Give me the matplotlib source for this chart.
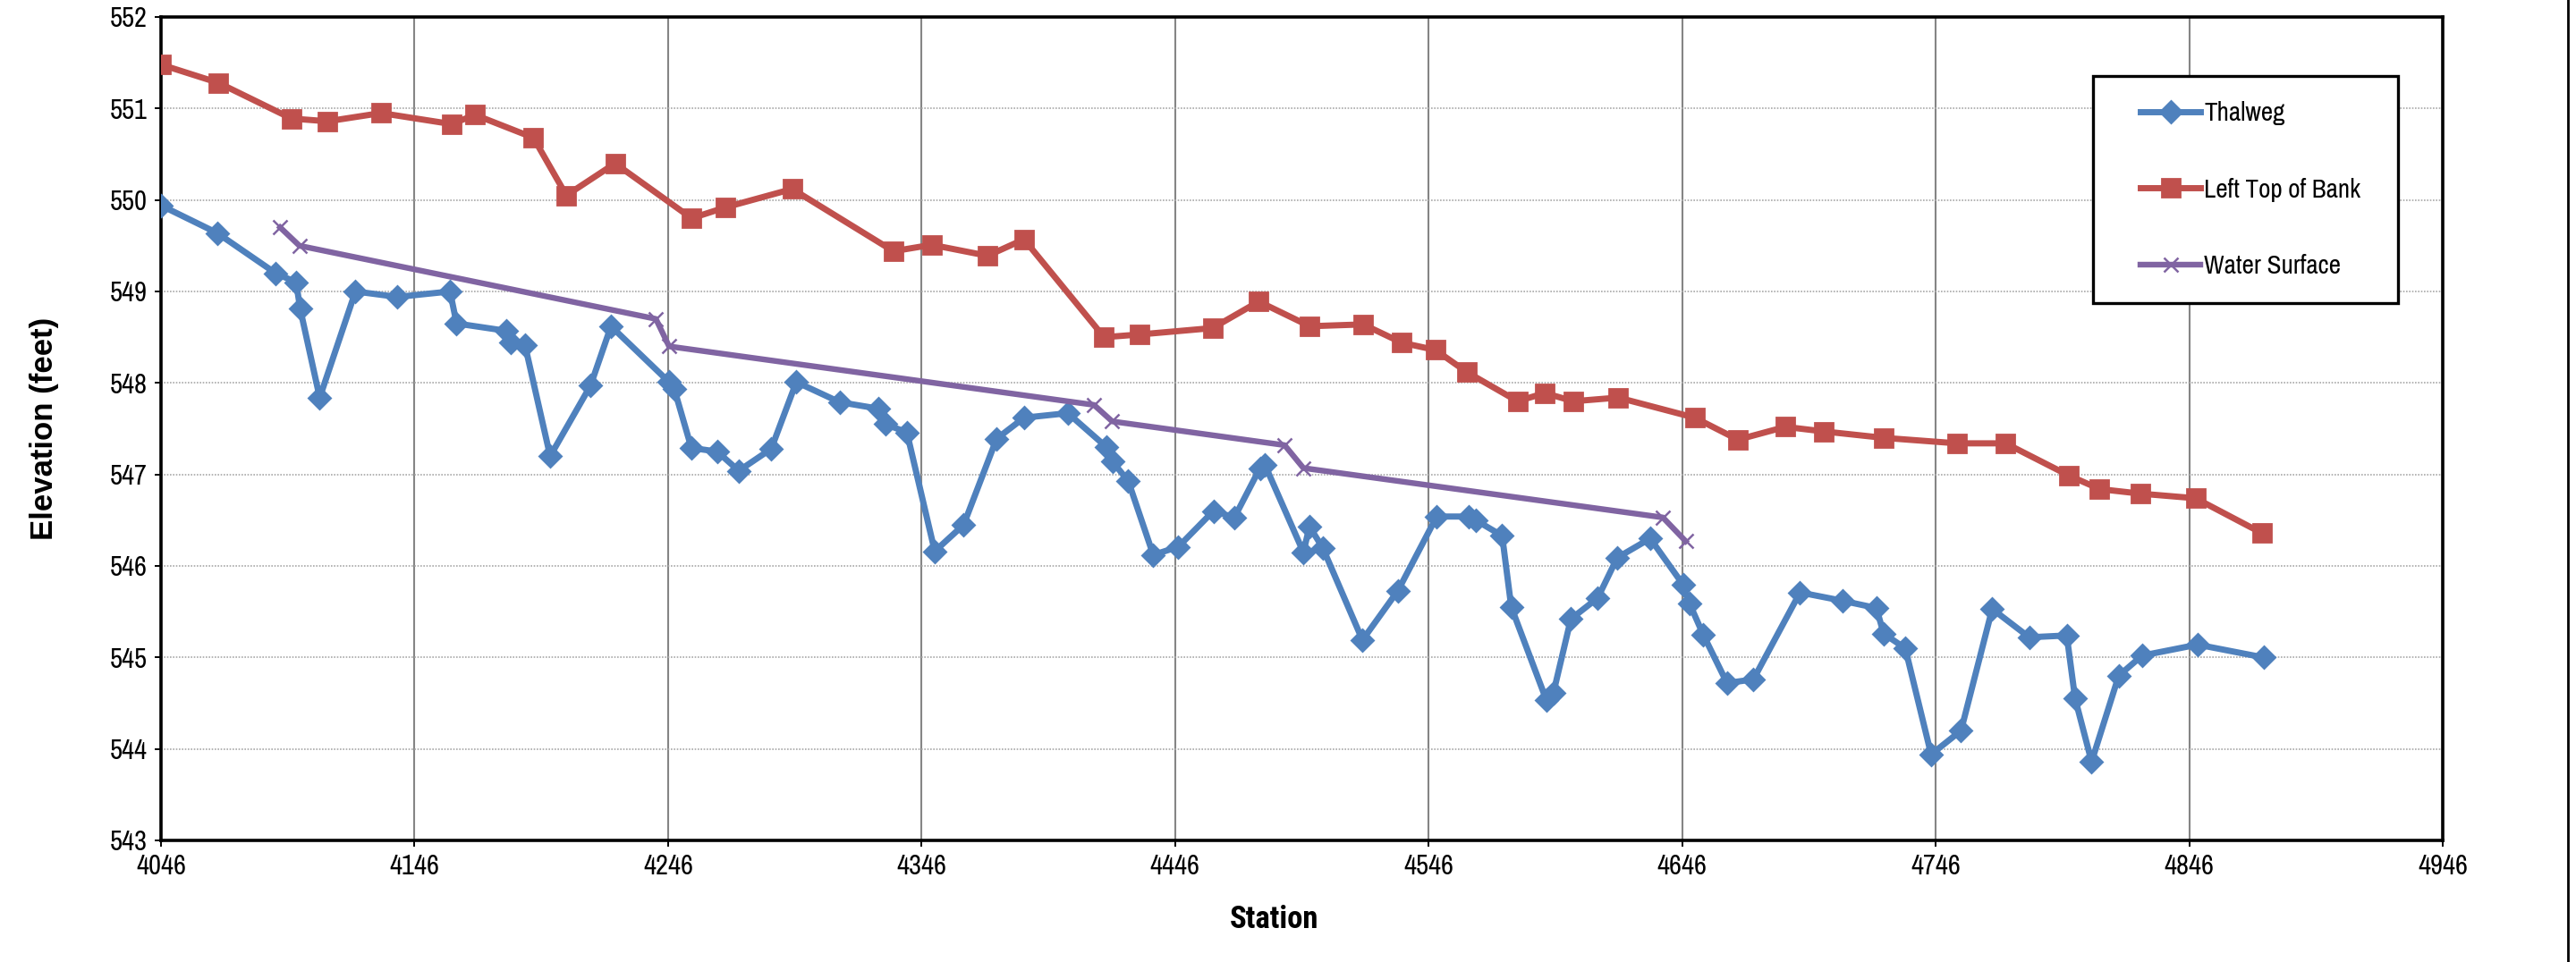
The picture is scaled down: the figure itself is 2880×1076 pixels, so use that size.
import matplotlib
matplotlib.use("Agg")
import matplotlib.pyplot as plt
from matplotlib.patches import Rectangle
from matplotlib.lines import Line2D

# ---- data ----
thalweg_station = [4046, 4068.1, 4091.2, 4099.3, 4100.9, 4108.6, 4122.7, 4139.2, 4160.0, 4162.6,
                   4182.1, 4183.9, 4189.6, 4199.5, 4215.4, 4223.5, 4246.4, 4248.5, 4255.2, 4265.4,
                   4273.9, 4286.7, 4296.6, 4313.7, 4328.8, 4331.7, 4340.2, 4351.2, 4362.6, 4375.6,
                   4386.4, 4403.7, 4418.9, 4421.3, 4427.5, 4437.4, 4447.3, 4461.1, 4469.4, 4479.5,
                   4481.5, 4496.6, 4499.0, 4504.2, 4519.9, 4533.9, 4549.2, 4561.9, 4564.6, 4575.0,
                   4578.6, 4592.5, 4595.2, 4602.1, 4612.7, 4620.4, 4633.4, 4646.5, 4648.9, 4654.3,
                   4663.7, 4674.1, 4692.5, 4709.1, 4722.6, 4725.5, 4734.0, 4744.2, 4756.0, 4768.3,
                   4782.9, 4797.7, 4801.0, 4807.5, 4818.2, 4827.4, 4849.3, 4875.3]
thalweg_elev = [549.94, 549.64, 549.20, 549.10, 548.81, 547.84, 549.00, 548.94, 549.00, 548.65,
                548.57, 548.44, 548.41, 547.20, 547.97, 548.62, 548.01, 547.93, 547.29, 547.25,
                547.04, 547.28, 548.01, 547.79, 547.72, 547.55, 547.46, 546.16, 546.45, 547.39,
                547.62, 547.67, 547.30, 547.14, 546.93, 546.12, 546.21, 546.60, 546.53, 547.07,
                547.10, 546.15, 546.43, 546.20, 545.19, 545.73, 546.54, 546.54, 546.50, 546.33,
                545.55, 544.53, 544.61, 545.42, 545.65, 546.09, 546.30, 545.79, 545.59, 545.25,
                544.72, 544.76, 545.71, 545.62, 545.54, 545.26, 545.10, 543.94, 544.20, 545.53,
                545.22, 545.24, 544.55, 543.86, 544.80, 545.02, 545.14, 545.00]

bank_station = [4046, 4068.7, 4097.5, 4111.7, 4132.8, 4160.5, 4169.9, 4192.9, 4205.9, 4225.1,
                4255.3, 4268.7, 4295.0, 4334.9, 4350.0, 4372.0, 4386.4, 4418.0, 4432.0, 4460.8,
                4479.0, 4499.1, 4520.2, 4535.4, 4548.7, 4561.0, 4581.1, 4591.8, 4603.1, 4620.8,
                4651.0, 4668.0, 4686.7, 4701.9, 4725.5, 4754.5, 4773.6, 4798.4, 4810.7, 4826.8,
                4848.5, 4874.6]
bank_elev = [551.48, 551.28, 550.89, 550.86, 550.95, 550.83, 550.93, 550.68, 550.05, 550.40,
             549.80, 549.92, 550.12, 549.44, 549.51, 549.39, 549.57, 548.50, 548.53, 548.60,
             548.89, 548.62, 548.64, 548.44, 548.36, 548.12, 547.80, 547.89, 547.80, 547.84,
             547.62, 547.38, 547.52, 547.47, 547.40, 547.34, 547.34, 546.99, 546.84, 546.79,
             546.74, 546.36]

ws_station = [4093.0, 4100.6, 4241.2, 4246.4, 4414.0, 4421.2, 4489.2, 4496.6, 4638.4, 4647.4]
ws_elev = [549.70, 549.50, 548.70, 548.40, 547.76, 547.58, 547.32, 547.07, 546.53, 546.27]

x_ticks = [4046, 4146, 4246, 4346, 4446, 4546, 4646, 4746, 4846, 4946]
y_ticks = [543, 544, 545, 546, 547, 548, 549, 550, 551, 552]

BLUE = "#4F81BD"
RED = "#C0504D"
PURPLE = "#8064A2"

narrow = ["Liberation Sans Narrow", "Archivo Narrow", "Liberation Sans", "DejaVu Sans"]
narrow_bold = ["Liberation Sans Narrow", "Roboto Condensed", "Asap Condensed",
               "Liberation Sans", "DejaVu Sans"]
plt.rcParams["font.family"] = narrow

W, H = 2880, 1076
DPI = 200
fig = plt.figure(figsize=(W / DPI, H / DPI), dpi=DPI)
fig.patch.set_facecolor("white")

L, R, T, B = 180, 2731, 19, 940
ax = fig.add_axes([L / W, 1 - B / H, (R - L) / W, (B - T) / H])

ax.plot(thalweg_station, thalweg_elev, color=BLUE, lw=2.5, marker="D", ms=6.0,
        mfc=BLUE, mec=BLUE, label="Thalweg", zorder=4)
ax.plot(bank_station, bank_elev, color=RED, lw=2.5, marker="s", ms=7.5,
        mfc=RED, mec=RED, label="Left Top of Bank", zorder=4)
ax.plot(ws_station, ws_elev, color=PURPLE, lw=2.3, marker="x", ms=6.0, mew=0.9,
        mec=PURPLE, label="Water Surface", zorder=4)

ax.set_xlim(4046, 4946)
ax.set_ylim(543, 552)
ax.set_xticks(x_ticks)
ax.set_yticks(y_ticks)
ax.set_xticklabels([str(v) for v in x_ticks])
ax.set_yticklabels([str(v) for v in y_ticks])

ax.xaxis.grid(True, color="#858585", lw=0.75, ls="-")
ax.yaxis.grid(True, color="#a8a8a8", lw=0.6, ls=(0, (1, 1)))
ax.set_axisbelow(True)

for s in ax.spines.values():
    s.set_color("black")
    s.set_linewidth(1.3)

ax.tick_params(axis="both", direction="out", length=2.5, width=0.7, color="black",
               labelsize=11, labelcolor="black")
ax.tick_params(axis="x", pad=3.0)
ax.tick_params(axis="y", pad=3.0)

fig.text(50 / W, 1 - 479 / H, "Elevation (feet)", rotation=90, ha="center", va="center",
         fontsize=12.5, fontweight="bold", family=["Liberation Sans", "DejaVu Sans"])
fig.text(1425 / W, 1 - 1029 / H, "Station", ha="center", va="center",
         fontsize=12.5, fontweight="bold", family=narrow_bold)

# legend box
bx0, by0, bx1, by1 = 2340, 85, 2681, 339
rect = Rectangle((bx0 / W, 1 - by1 / H), (bx1 - bx0) / W, (by1 - by0) / H,
                 transform=fig.transFigure, facecolor="white", edgecolor="black",
                 lw=1.2, zorder=8, clip_on=False)
ax.add_patch(rect)
leg = ax.legend(loc="center left", bbox_to_anchor=(2393 / W, 1 - 212 / H),
                bbox_transform=fig.transFigure, frameon=False, borderpad=0,
                borderaxespad=0, handlelength=2.3, handletextpad=0.15,
                labelspacing=2.0, fontsize=10.5, numpoints=1)
leg.set_zorder(10)

# right border of chart area
fig.add_artist(Line2D([2871 / W, 2871 / W], [0, 1], transform=fig.transFigure,
                      color="black", lw=1.0))

fig.savefig("out.png", dpi=DPI, facecolor="white")
